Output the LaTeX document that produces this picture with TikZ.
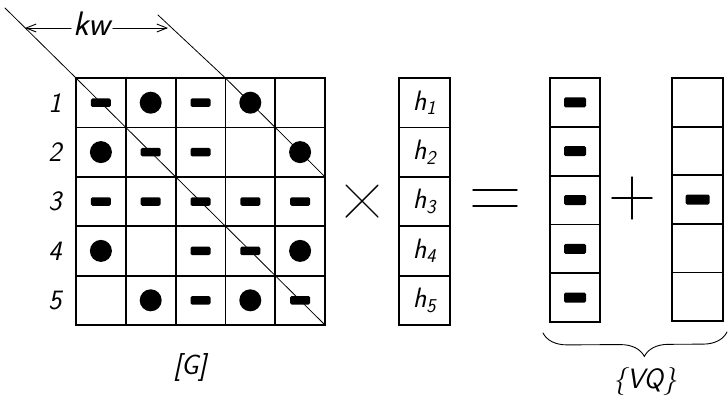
\documentclass[tikz,border=0pt]{standalone}
\usepackage{tikz}
\usetikzlibrary{arrows.meta,calc,decorations.pathreplacing}

\begin{document}
\begin{tikzpicture}[x=1pt,y=-1pt,line cap=round,
  hand/.style={font=\fontsize{28}{30}\selectfont\sffamily\itshape},
  cellbox/.style={draw,line width=1.8pt,minimum width=#1,minimum height=49.4pt,inner sep=0pt,outer sep=0pt},
  cellbox/.default=49.8pt,
  dotmark/.style={circle,fill,minimum size=22pt,inner sep=0pt},
  dashmark/.style={fill,rounded corners=1.5pt,minimum width=20pt,minimum height=8.5pt,inner sep=0pt},
  opline/.style={line width=1.4pt}]
  \useasboundingbox (0,0) rectangle (728,400);
  % matrix [G]
  \foreach \r in {1,...,5}{
    \foreach \c in {1,...,5}
      \node[cellbox] (g\r\c) at ({76+(\c-0.5)*49.8},{78+(\r-0.5)*49.4}) {};
    \node[hand] (row\r) at (55,{78+(\r-0.5)*49.4}) {\r};
  }
  \foreach \r/\c in {1/2,1/4,2/1,2/5,4/1,4/5,5/2,5/4} \node[dotmark] (o\r\c) at (g\r\c) {};
  \foreach \r/\c in {1/1,1/3,2/2,2/3,3/1,3/2,3/3,3/4,3/5,4/3,4/4,5/3,5/5} \node[dashmark] (m\r\c) at (g\r\c) {};
  \node[hand] (G) at (190,367) {[G]};
  % band width
  \coordinate (d1) at (5,8); \coordinate (d2) at (158,15);
  \draw[line width=0.8pt] (d1) -- (g11.north west) -- (g55.south east);
  \draw[line width=0.8pt] (d2) -- (g14.north west) -- (g25.south east);
  \node[hand,font=\fontsize{34}{36}\selectfont\sffamily\itshape,inner sep=2pt] (kw) at (92,24) {kw};
  \coordinate (kl) at (25,28); \coordinate (kr) at (168,28);
  \draw[line width=0.9pt,-{Straight Barb[length=10pt,width=8pt]}] (kw.west|-kl) -- (kl);
  \draw[line width=0.9pt,-{Straight Barb[length=10pt,width=8pt]}] (kw.east|-kr) -- (kr);
  % times
  \coordinate (times) at (362,201);
  \draw[opline] ($(times)+(-16,-16)$) -- ($(times)+(16,16)$);
  \draw[opline] ($(times)+(-16,16)$) -- ($(times)+(16,-16)$);
  % vector h
  \foreach \r in {1,...,5}
    \node[cellbox=51pt,hand] (h\r) at (424.5,{78+(\r-0.5)*49.4}) {h\textsubscript{\r}};
  % equals
  \coordinate (eq) at (495,198);
  \draw[opline] ($(eq)+(-22,-8)$) -- ($(eq)+(22,-8)$);
  \draw[opline] ($(eq)+(-22,8)$) -- ($(eq)+(22,8)$);
  % vector VQ, first part
  \foreach \r in {1,...,5}{
    \node[cellbox=50pt,minimum height=48.8pt] (q\r) at (575,{78+(\r-0.5)*48.8}) {};
    \node[dashmark,minimum width=22pt,minimum height=10pt] (qm\r) at (q\r) {};
  }
  % plus
  \coordinate (pl) at (632,198);
  \draw[opline] ($(pl)+(-20,0)$) -- ($(pl)+(20,0)$);
  \draw[opline] ($(pl)+(0,-21)$) -- ($(pl)+(0,21)$);
  % vector VQ, second part
  \foreach \r in {1,...,5}
    \node[cellbox=51pt,minimum height=48.6pt] (s\r) at (697.5,{78+(\r-0.5)*48.6}) {};
  \node[dashmark,minimum width=24pt,minimum height=10pt] (sm3) at (s3) {};
  % brace
  \coordinate (bl) at ($(q5.south west)+(-7,11)$);
  \coordinate (br) at ($(s5.south east)+(4,11)$);
  \draw[line width=0.9pt,decorate,decoration={brace,mirror,amplitude=24pt,aspect=0.55}] (bl) -- (br);
  \node[hand] (VQ) at (645,381) {\{VQ\}};
\end{tikzpicture}
\end{document}
